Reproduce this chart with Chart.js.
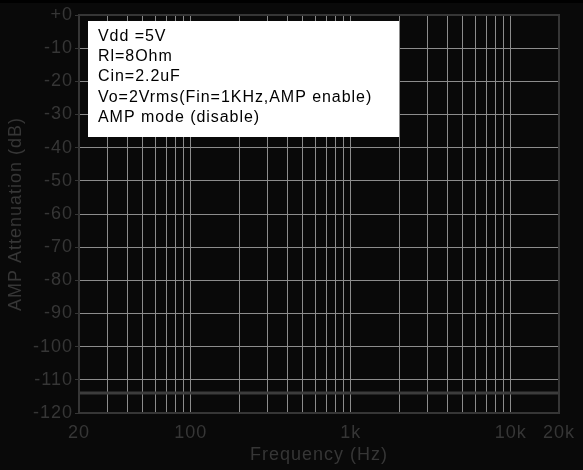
<!DOCTYPE html>
<html>
<head>
<meta charset="utf-8">
<script src="https://cdn.jsdelivr.net/npm/chart.js@4/dist/chart.umd.min.js"></script>
<style>
  html, body { margin: 0; padding: 0; background: #000; }
  #wrap { width: 583px; height: 470px; position: relative; }
</style>
</head>
<body>
<div id="wrap"><canvas id="c" width="583" height="470"></canvas></div>
<script>
// Measured response: frequency (Hz) and attenuation (dB)
const frequencies = [20, 20000];
const attenuation = [-114, -114];

// Log-axis ticks: decade/sub-decade grid positions and the labelled ones
const xTickValues = [20, 30, 40, 50, 60, 70, 80, 90,
                     100, 200, 300, 400, 500, 600, 700, 800, 900,
                     1000, 2000, 3000, 4000, 5000, 6000, 7000, 8000, 9000,
                     10000, 20000];
const xTickLabels = { 20: '20', 100: '100', 1000: '1k', 10000: '10k', 20000: '20k' };

// Test conditions shown in the note box
const noteLines = [
  'Vdd =5V',
  'Rl=8Ohm',
  'Cin=2.2uF',
  'Vo=2Vrms(Fin=1KHz,AMP enable)',
  'AMP mode (disable)'
];

const TEXT_GRAY = '#363636';
const GRID_GRAY = '#8c8c8c';
const FONT = 'Arial, "Liberation Sans", sans-serif';

const backdrop = {
  id: 'backdrop',
  beforeDraw(chart) {
    const { ctx, width, height } = chart;
    ctx.save();
    ctx.fillStyle = '#090909';
    ctx.fillRect(0, 0, width, height);
    ctx.fillStyle = '#000';
    ctx.fillRect(0, 0, width, 3);
    ctx.restore();
    // slightly wide text for all axis labels
    ctx.letterSpacing = '1px';
  }
};

const frameAndNote = {
  id: 'frameAndNote',
  afterDatasetsDraw(chart) {
    const { ctx, chartArea: a } = chart;
    ctx.save();
    ctx.strokeStyle = '#363636';
    ctx.lineWidth = 2;
    ctx.strokeRect(a.left, a.top, a.right - a.left, a.bottom - a.top);

    // note box
    const x0 = a.left + 9, y0 = a.top + 6;
    ctx.fillStyle = '#ffffff';
    ctx.fillRect(x0, y0, 311, 116);
    ctx.fillStyle = '#000000';
    ctx.font = '16px ' + FONT;
    ctx.letterSpacing = '0.95px';
    ctx.textBaseline = 'alphabetic';
    ctx.textAlign = 'left';
    noteLines.forEach((t, i) => {
      ctx.fillText(t, x0 + 10, y0 + 20 + i * 20.2);
    });
    ctx.restore();
  }
};

new Chart(document.getElementById('c'), {
  type: 'line',
  data: {
    datasets: [{
      data: frequencies.map((f, i) => ({ x: f, y: attenuation[i] })),
      borderColor: '#3c3c3c',
      borderWidth: 3,
      pointRadius: 0,
      tension: 0
    }]
  },
  options: {
    responsive: false,
    animation: false,
    layout: { padding: { top: 15, right: 24, bottom: 0, left: 0 } },
    plugins: { legend: { display: false }, tooltip: { enabled: false } },
    scales: {
      x: {
        type: 'logarithmic',
        min: 20,
        max: 20000,
        afterBuildTicks(scale) {
          scale.ticks = xTickValues.map(v => ({ value: v }));
        },
        afterFit(scale) { scale.height = 57; },
        ticks: {
          autoSkip: false,
          maxRotation: 0,
          minRotation: 0,
          padding: 9,
          color: TEXT_GRAY,
          font: { family: FONT, size: 18 },
          callback: (v) => xTickLabels[v] || ''
        },
        grid: {
          drawTicks: false,
          color: (c) => (c.tick && (c.tick.value === 20 || c.tick.value === 20000)) ? 'rgba(0,0,0,0)' : GRID_GRAY,
          lineWidth: 1
        },
        border: { display: false },
        title: {
          display: true,
          text: 'Frequency (Hz)',
          color: TEXT_GRAY,
          font: { family: FONT, size: 18 },
          padding: { top: 0, bottom: 4 }
        }
      },
      y: {
        min: -120,
        max: 0,
        afterFit(scale) { scale.width = 79; },
        ticks: {
          stepSize: 10,
          padding: 2,
          color: TEXT_GRAY,
          font: { family: FONT, size: 18 },
          callback: (v) => v === 0 ? '+0' : String(v)
        },
        grid: {
          drawTicks: true,
          tickLength: 4,
          tickColor: '#363636',
          color: (c) => (c.tick && (c.tick.value === 0 || c.tick.value === -120)) ? 'rgba(0,0,0,0)' : GRID_GRAY,
          lineWidth: 1
        },
        border: { display: false },
        title: {
          display: true,
          text: 'AMP Attenuation (dB)',
          color: TEXT_GRAY,
          font: { family: FONT, size: 18 },
          padding: { top: 5, bottom: 0 }
        }
      }
    }
  },
  plugins: [backdrop, frameAndNote]
});
</script>
</body>
</html>
